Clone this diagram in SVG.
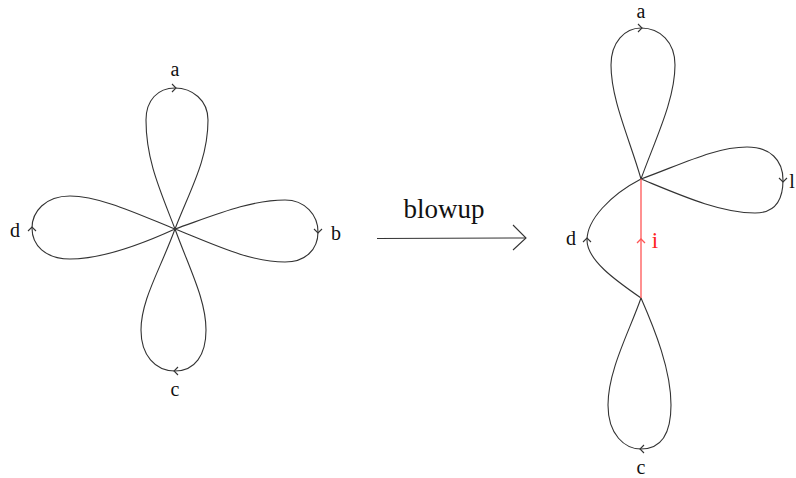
<svg xmlns="http://www.w3.org/2000/svg" width="796" height="478" viewBox="0 0 796 478">
<style>
.c{fill:none;stroke:#333;stroke-width:1.1}
.r{fill:none;stroke:#f55;stroke-width:1.3}
.t{font-family:"Liberation Serif",serif;font-size:20px;fill:#111;text-anchor:middle}
</style>
<rect width="796" height="478" fill="#fff"/>
<g id="left-bouquet">
<path class="c" d="M175,229 C160,190 146,160 146,120 C146,100 158,88 175,88 C192,88 208,100 208,120 C208,160 190,190 175,229"/>
<path class="c" d="M175,229 C215,215 250,200 285,200 C305,200 318,215 318,232 C318,250 305,262 285,262 C250,262 215,245 175,229"/>
<path class="c" d="M175,229 C140,215 100,196 70,196 C45,196 32,212 32,228 C32,245 45,259 70,259 C100,259 140,245 175,229"/>
<path class="c" d="M175,229 C160,270 141,300 141,330 C141,355 155,371 175,371 C195,371 206,355 206,330 C206,300 190,270 175,229"/>
<path class="c" d="M172,84 L176,88 L172,92"/>
<path class="c" d="M314,229 L318,233 L322,229"/>
<path class="c" d="M28,231 L32,227 L36,231"/>
<path class="c" d="M178,367 L174,371 L178,375"/>
<text class="t" x="175" y="76">a</text>
<text class="t" x="336" y="240">b</text>
<text class="t" x="175" y="396">c</text>
<text class="t" x="15" y="237">d</text>
</g>
<g id="blowup-arrow">
<path class="c" d="M377,238.5 L526,238"/>
<path class="c" d="M513,225 L526,238 L513,250"/>
<text x="444" y="218" style="font-family:'Liberation Serif',serif;font-size:27px;fill:#111;text-anchor:middle">blowup</text>
</g>
<g id="right-graph">
<path class="c" d="M641,179 C630,140 611,100 611,65 C611,42 625,28 641,28 C660,28 675,42 675,65 C675,100 655,140 641,179"/>
<path class="c" d="M641,179 C680,165 715,147 747,147 C770,147 783,160 783,180 C783,200 775,213 755,213 C720,213 680,195 641,179"/>
<path class="c" d="M641,179 C610,195 587,220 587,240 C587,260 615,280 641,298"/>
<path class="c" d="M641,298 C630,330 608,370 608,405 C608,435 625,449 641,449 C660,449 671,435 671,405 C671,370 655,330 641,298"/>
<path class="r" d="M641,179 L641,298"/>
<path class="r" d="M637,243 L641,239 L645,243"/>
<path class="c" d="M638,24 L642,28 L638,32"/>
<path class="c" d="M779,178 L783,182 L787,178"/>
<path class="c" d="M583,242 L587,238 L591,242"/>
<path class="c" d="M644,445 L640,449 L644,453"/>
<text class="t" x="641" y="18">a</text>
<text class="t" x="792" y="188">l</text>
<text class="t" x="641" y="474">c</text>
<text class="t" x="571" y="245">d</text>
<text x="655" y="248" style="font-family:'Liberation Serif',serif;font-size:23px;fill:#f22;text-anchor:middle">i</text>
</g>
</svg>
